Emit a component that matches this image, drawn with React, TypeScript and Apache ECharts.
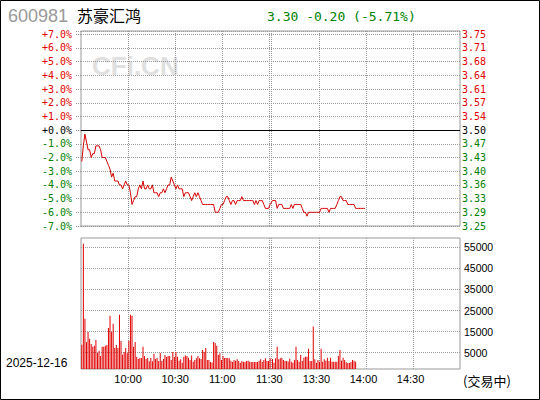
import React, { useEffect, useRef } from 'react';
import * as echarts from 'echarts';

const stockCode = '600981';
const stockName = '苏豪汇鸿';
const quoteText = '3.30 -0.20 (-5.71%)';
const tradeDate = '2025-12-16';
const statusText = '(交易中)';
const watermark = 'CFi.CN';
const prevClose = 3.5;

const pctLabels = ['-7.0%', '-6.0%', '-5.0%', '-4.0%', '-3.0%', '-2.0%', '-1.0%', '+0.0%', '+1.0%', '+2.0%', '+3.0%', '+4.0%', '+5.0%', '+6.0%', '+7.0%'];
const priceLabels = ['3.25', '3.29', '3.33', '3.36', '3.40', '3.43', '3.47', '3.50', '3.54', '3.57', '3.61', '3.64', '3.68', '3.71', '3.75'];
const timeLabels = ['', '10:00', '10:30', '11:00', '11:30', '13:30', '14:00', '14:30', ''];
// session divider minutes (10:00, 10:30, 11:00, 11:30 | 13:00, 13:30, 14:00, 14:30)
const dividerMinutes = [30, 60, 90, 120, 121.5, 151.5, 181.5, 211.5];
const sessionEnd = 241.5;
const pmStart = 122;

// morning prices, one per minute from 9:30
const amPrices = [
  3.42, 3.46, 3.49, 3.47, 3.45, 3.45, 3.43, 3.44, 3.44, 3.46,
  3.46, 3.46, 3.45, 3.43, 3.43, 3.43, 3.42, 3.41, 3.40, 3.38,
  3.39, 3.37, 3.37, 3.37, 3.36, 3.36, 3.35, 3.36, 3.37, 3.36,
  3.36, 3.34, 3.31, 3.32, 3.33, 3.33, 3.35, 3.36, 3.35, 3.37,
  3.35, 3.35, 3.36, 3.35, 3.35, 3.36, 3.34, 3.34, 3.34, 3.33,
  3.34, 3.34, 3.35, 3.34, 3.35, 3.36, 3.36, 3.38, 3.37, 3.36,
  3.35, 3.36, 3.35, 3.35, 3.35, 3.33, 3.34, 3.34, 3.34, 3.33,
  3.32, 3.33, 3.34, 3.33, 3.34, 3.33, 3.32, 3.31, 3.31, 3.31,
  3.31, 3.31, 3.31, 3.31, 3.31, 3.29, 3.29, 3.29, 3.30, 3.31,
  3.31, 3.32, 3.33, 3.33, 3.32, 3.31, 3.32, 3.32, 3.31, 3.32,
  3.32, 3.32, 3.33, 3.32, 3.32, 3.32, 3.32, 3.32, 3.32, 3.32,
  3.31, 3.32, 3.31, 3.32, 3.32, 3.32, 3.31, 3.30, 3.30, 3.30,
  3.31,
];
// afternoon prices, one per minute from 13:00
const pmPrices = [
  3.32, 3.32, 3.32, 3.30, 3.31, 3.31, 3.31, 3.30, 3.30, 3.30,
  3.30, 3.30, 3.31, 3.30, 3.31, 3.31, 3.31, 3.31, 3.31, 3.30,
  3.29, 3.29, 3.28, 3.29, 3.29, 3.29, 3.29, 3.29, 3.29, 3.29,
  3.29, 3.30, 3.30, 3.30, 3.30, 3.30, 3.29, 3.30, 3.30, 3.30,
  3.30, 3.31, 3.32, 3.33, 3.33, 3.32, 3.32, 3.32, 3.31, 3.31,
  3.31, 3.31, 3.31, 3.30, 3.30, 3.30, 3.30, 3.30, 3.30, 3.30,
];
// morning volumes per minute
const amVolumes = [
  8800, 56750, 21050, 10100, 14860, 11660, 9140, 7860, 8330, 11050,
  4860, 5950, 3430, 7860, 7860, 8330, 8670, 16760, 22470, 14860,
  18670, 7240, 8670, 7240, 22950, 10570, 4050, 5330, 7240, 4700,
  10700, 22950, 22470, 7860, 10100, 2950, 2000, 2480, 2480, 7860,
  3430, 2000, 2480, 890, 2480, 890, 4530, 2000, 2480, 1050,
  4860, 1050, 2000, 3900, 2950, 3430, 3430, 1500, 5330, 2950,
  5330, 3100, 1190, 1860, 240, 3100, 3600, 3430, 2620, 1520,
  3600, 710, 1520, 2310, 3430, 2310, 2000, 6290, 5330, 7240,
  1520, 1520, 570, 300, 10100, 9600, 8330, 3900, 4700, 1520,
  3430, 2480, 2480, 2480, 2310, 1190, 570, 1520, 1190, 1860,
  1050, 240, 880, 700, 570, 1050, 1190, 710, 570, 570,
  570, 570, 570, 1190, 1860, 570, 1520, 2310, 1050, 1050,
  2310,
];
// afternoon volumes per minute
const pmVolumes = [
  2000, 240, 2310, 7860, 1860, 2310, 2620, 1520, 1050, 1050,
  800, 2150, 710, 240, 1520, 7860, 1520, 710, 3900, 1050,
  2620, 3100, 3100, 6900, 1000, 1000, 17400, 1860, 240, 1520,
  700, 6900, 710, 1860, 1200, 2620, 1000, 2620, 710, 710,
  710, 710, 3430, 6290, 1200, 2620, 1520, 430, 100, 100,
  570, 1520, 1200, 710,
];
const volMin = -2760;
const volMax = 59430;
const volTicksMin = 5000;
const volTicksMax = 55000;

const RED = '#e00000';
const GREEN = '#008000';

export default function App() {
  const ref = useRef<HTMLDivElement>(null);
  useEffect(() => {
    document.body.style.margin = '0';
    const chart = echarts.init(ref.current!, null, { renderer: 'svg' });
    const toPct = (p: number) => (p / prevClose - 1) * 100;
    const priceData: number[][] = [];
    amPrices.forEach((p, i) => priceData.push([i + 0.5, toPct(p)]));
    pmPrices.forEach((p, i) => priceData.push([pmStart + i, toPct(p)]));
    const volData: number[][] = [];
    amVolumes.forEach((v, i) => volData.push([i + 0.5, v]));
    pmVolumes.forEach((v, i) => volData.push([pmStart + i, v]));

    const mono = '"DejaVu Sans Mono", monospace';
    const sans = '"Liberation Sans", Arial, sans-serif';
    const pctColor = (v: any) => (Number(v) > 0 ? RED : Number(v) < 0 ? GREEN : '#000');
    const dotted = { color: '#999', type: 'dotted' as const, width: 1 };
    const vLines = dividerMinutes.map((m) => ({ xAxis: m, lineStyle: dotted }));

    chart.setOption({
      animation: false,
      grid: [
        { left: 81, top: 31, width: 379, height: 195, show: true, borderColor: '#999', borderWidth: 1, backgroundColor: 'transparent' },
        { left: 81, top: 238, width: 379, height: 131, show: true, borderColor: '#999', borderWidth: 1, backgroundColor: 'transparent' },
        { left: 81, top: 247.3, width: 379, height: 105.4, show: false },
      ],
      xAxis: [
        { gridIndex: 0, type: 'value', min: 0, max: sessionEnd, show: false },
        {
          gridIndex: 1, type: 'value', min: 0, max: sessionEnd, interval: 30,
          axisLine: { show: false }, axisTick: { show: false }, splitLine: { show: false },
          axisLabel: {
            margin: 4, color: '#000', fontSize: 11, fontFamily: sans,
            formatter: (v: number) => (v % 30 === 0 ? timeLabels[v / 30] ?? '' : ''),
          },
        },
        { gridIndex: 2, type: 'value', min: 0, max: sessionEnd, show: false },
      ],
      yAxis: [
        {
          gridIndex: 0, type: 'value', position: 'left', min: -7, max: 7.24, interval: 1,
          axisLine: { show: false },
          axisTick: { show: true, length: 6, lineStyle: dotted },
          splitLine: { show: true, lineStyle: dotted },
          axisLabel: {
            margin: 9, fontSize: 10, fontFamily: mono, color: pctColor,
            formatter: (v: number) => (Number.isInteger(v) ? pctLabels[v + 7] ?? '' : ''),
          },
        },
        {
          gridIndex: 0, type: 'value', position: 'right', min: -7, max: 7.24, interval: 1,
          axisLine: { show: false }, axisTick: { show: false }, splitLine: { show: false },
          axisLabel: {
            margin: 2, fontSize: 10, fontFamily: mono, color: pctColor,
            formatter: (v: number) => (Number.isInteger(v) ? priceLabels[v + 7] ?? '' : ''),
          },
        },
        { gridIndex: 1, type: 'value', min: volMin, max: volMax, show: false },
        {
          gridIndex: 2, type: 'value', position: 'right', min: volTicksMin, max: volTicksMax, interval: 10000,
          axisLine: { show: false }, axisTick: { show: false },
          splitLine: { show: true, lineStyle: dotted },
          axisLabel: { margin: 4, fontSize: 10.5, fontFamily: sans, color: '#000', formatter: (v: number) => String(v) },
        },
      ],
      graphic: [
        { type: 'rect', shape: { x: 0.5, y: 0.5, width: 539, height: 399 }, style: { fill: 'none', stroke: '#000', lineWidth: 1 }, silent: true },
        { type: 'text', x: 8, y: 16, style: { text: stockCode, font: `18px ${sans}`, fill: '#999', verticalAlign: 'middle' } },
        { type: 'text', x: 77, y: 15, style: { text: stockName, font: '16px "Noto Sans CJK SC"', fill: '#000', verticalAlign: 'middle' } },
        { type: 'text', x: 267, y: 16, style: { text: quoteText, font: `13px ${mono}`, fill: GREEN, verticalAlign: 'middle' } },
        { type: 'text', x: 92, y: 66, z: 0, style: { text: watermark, font: `bold 26px ${sans}`, fill: '#e0e0e0', verticalAlign: 'middle' } },
        { type: 'text', x: 6, y: 363, style: { text: tradeDate, font: `12px ${sans}`, fill: '#000', verticalAlign: 'middle' } },
        { type: 'text', x: 463, y: 380, style: { text: statusText, font: '13px "Noto Sans CJK SC"', fill: '#000', verticalAlign: 'middle' } },
      ],
      series: [
        {
          type: 'line', xAxisIndex: 0, yAxisIndex: 0, data: priceData, showSymbol: false, z: 3,
          lineStyle: { color: '#d40000', width: 1 }, itemStyle: { color: '#d40000' },
          markLine: {
            silent: true, symbol: ['none', 'none'], label: { show: false }, z: 2,
            data: [...vLines, { yAxis: 0, lineStyle: { color: '#000', type: 'solid', width: 1 } }],
          },
        },
        {
          type: 'custom', xAxisIndex: 1, yAxisIndex: 2, data: volData, z: 3,
          renderItem: (params: any, api: any) => {
            const x = api.value(0);
            const v = api.value(1);
            const top = api.coord([x, v]);
            const base = api.coord([x, volMin]);
            return { type: 'rect', shape: { x: top[0] - 0.5, y: top[1], width: 1, height: base[1] - top[1] }, style: { fill: RED } };
          },
          markLine: { silent: true, symbol: ['none', 'none'], label: { show: false }, z: 2, data: vLines },
        },
      ],
    });
    return () => chart.dispose();
  }, []);
  return <div ref={ref} style={{ width: 540, height: 400 }} />;
}
